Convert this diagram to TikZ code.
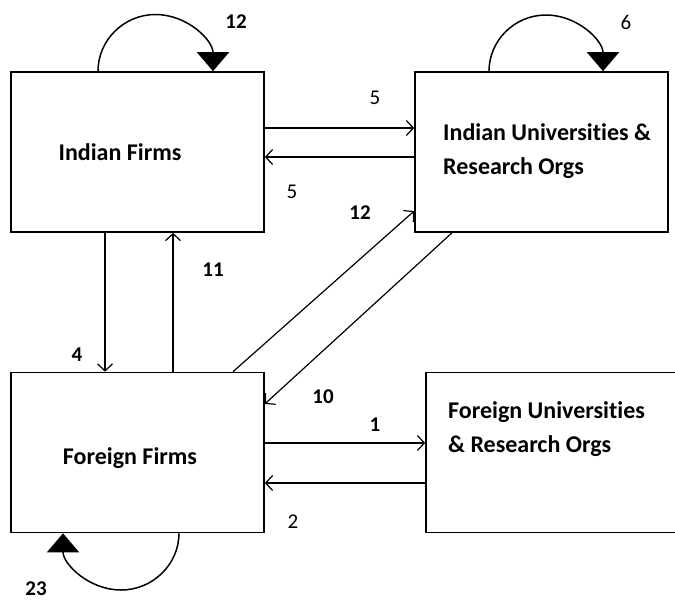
\documentclass[tikz,border=0pt]{standalone}
\usepackage{fontspec}
\setmainfont{Carlito}[Ligatures=NoCommon]
\usetikzlibrary{arrows.meta}
\begin{document}
\begin{tikzpicture}[x=1pt,y=-1pt,
  box/.style={draw, line width=1.6pt, inner sep=0pt, minimum width=253pt, minimum height=160pt},
  arr/.style={line width=1.2pt, -{Straight Barb[length=7pt,width=15pt,line width=1.2pt]}},
  loopc/.style={line width=1.5pt, -{Triangle[length=19pt,width=32pt]}},
  lbl/.style={font=\fontsize{21}{21}\selectfont\bfseries, inner sep=0pt},
  lblr/.style={font=\fontsize{21}{21}\selectfont, inner sep=0pt},
  txt/.style={font=\fontsize{24}{24}\selectfont\bfseries, inner sep=0pt}]
\useasboundingbox (0,0) rectangle (675,600);
% boxes
\node[box] (IF) at (137.5,152) {};
\node[box] (IU) at (541.5,152) {};
\node[box] (FF) at (137.5,452.5) {};
\node[box, minimum width=260pt] (FU) at (556,452.5) {};
% texts
\node[txt] (tIF) at (120,152) {Indian Firms};
\node[txt, anchor=base west] (tIU1) at (443,140) {Indian Universities \&};
\node[txt, anchor=base west] (tIU2) at (443,174) {Research Orgs};
\node[txt] (tFF) at (130,458) {Foreign Firms};
\node[txt, anchor=base west] (tFU1) at (448,418) {Foreign Universities};
\node[txt, anchor=base west] (tFU2) at (448,452) {\& Research Orgs};
% self loops
\draw[loopc] (IF.north -| 98,0) .. controls (98,40.24) and (123.74,14.5) .. (155.5,14.5)
  .. controls (187.26,14.5) and (213,40.24) .. (IF.north -| 213,0);
\draw[loopc] (IU.north -| 489,0) .. controls (489,40.52) and (514.52,15) .. (546,15)
  .. controls (577.48,15) and (603,40.52) .. (IU.north -| 603,0);
\draw[loopc] (FF.south -| 179,0) .. controls (179,564.03) and (153.03,590) .. (121,590)
  .. controls (88.97,590) and (63,564.03) .. (FF.south -| 63,0);
% connectors
\draw[arr] (IF.east |- 0,128) -- (IU.west |- 0,128);
\draw[arr] (IU.west |- 0,157) -- (IF.east |- 0,157);
\draw[arr] (IF.south -| 105,0) -- (FF.north -| 105,0);
\draw[arr] (FF.north -| 173,0) -- (IF.south -| 173,0);
\draw[arr] (FF.north -| 233,0) -- (IU.west |- 0,211);
\draw[arr] (IU.south -| 452,0) -- (FF.east |- 0,404);
\draw[arr] (FF.east |- 0,443) -- (FU.west |- 0,443);
\draw[arr] (FU.west |- 0,483) -- (FF.east |- 0,483);
% labels
\node[lbl] (l12a) at (236,22) {12};
\node[lblr] (l6) at (626,22) {6};
\node[lbl] (l23) at (36,589) {23};
\node[lblr] (l5a) at (375,98) {5};
\node[lblr] (l5b) at (292,192) {5};
\node[lbl] (l12b) at (360,213) {12};
\node[lbl] (l4) at (77,355) {4};
\node[lbl] (l11) at (213,270) {11};
\node[lbl] (l10) at (323,397) {10};
\node[lbl] (l1) at (375,425) {1};
\node[lblr] (l2) at (293,522) {2};
\end{tikzpicture}
\end{document}
